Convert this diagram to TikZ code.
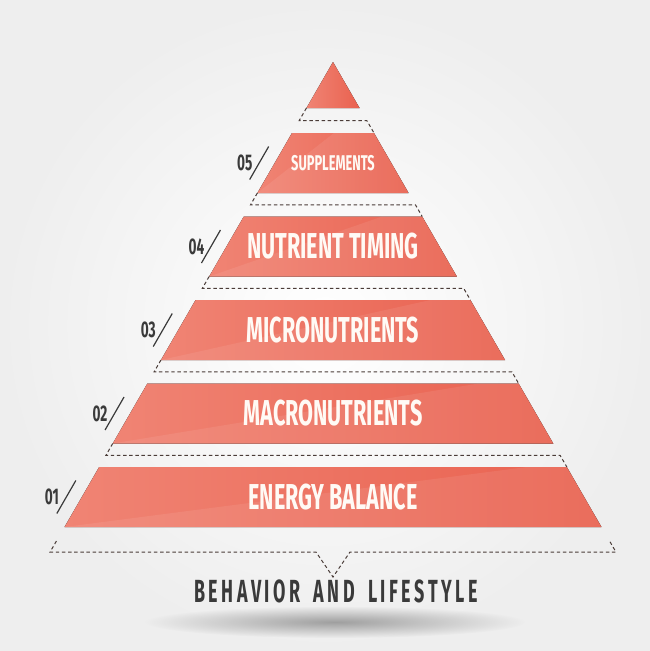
\documentclass[tikz,border=0pt]{standalone}
\usepackage{fontspec}
\newfontfamily\bandfont[FakeStretch=0.6]{Fira Sans}
\newfontfamily\basefont[FakeStretch=0.56,LetterSpace=11,WordSpace=1.7]{Fira Sans}
\usetikzlibrary{calc,fadings}
\definecolor{coral}{HTML}{F08474}
\definecolor{coraldark}{HTML}{E9614F}
\definecolor{inkgray}{HTML}{3A3A3A}
\definecolor{dashgray}{HTML}{4A3C38}
\definecolor{paper}{HTML}{EEEEEE}
\newcommand\edgeL[1]{333-0.5774*(#1-62)}
\newcommand\edgeR[1]{333+0.5774*(#1-62)}
\tikzfading[name=shadowfade,inner color=transparent!0,outer color=transparent!100]
\tikzset{
  band/.style     ={left color=coral,right color=coraldark},
  facet/.style    ={white,fill opacity=0.08},
  bandtext/.style ={text=white!96!orange,inner sep=0pt,font=\bandfont\bfseries\fontsize{#1}{#1}\selectfont},
  numtext/.style  ={text=inkgray,inner sep=0pt,font=\bandfont\bfseries\fontsize{17}{17}\selectfont},
  slashline/.style={inkgray,line width=0.9pt},
  gapline/.style  ={dashgray,line width=0.75pt,dash pattern=on 2.6pt off 2pt},
  basetext/.style ={text=inkgray,inner sep=0pt,font=\basefont\bfseries\fontsize{24}{24}\selectfont},
}

\begin{document}
\begin{tikzpicture}[x=0.75pt,y=-0.75pt]
  \useasboundingbox (0,0) rectangle (650,651);
  \fill[inner color=white,outer color=paper] (0,0) rectangle (650,651);
  \fill[gray!75,path fading=shadowfade] (335,622) ellipse [x radius=190,y radius=16];
  % apex
  \fill[band] (333,62) -- ({\edgeR{108}},108) -- ({\edgeL{108}},108) -- cycle;
  % bands, numbers and slashes
  \foreach \ytop/\i/\sz/\txt in {133/5/16/SUPPLEMENTS,216.5/4/27/NUTRIENT TIMING,300/3/27/MICRONUTRIENTS,383.5/2/27/MACRONUTRIENTS,467/1/27/ENERGY BALANCE}{
    \pgfmathsetmacro\ybot{\ytop+60}
    \pgfmathsetmacro\ymid{\ytop+30}
    \fill[band] ({\edgeL{\ytop}},\ytop) -- ({\edgeR{\ytop}},\ytop) -- ({\edgeR{\ybot}},\ybot) -- ({\edgeL{\ybot}},\ybot) -- cycle;
    \fill[facet] ({\edgeL{\ybot}},\ybot) -- ({\edgeR{\ytop}-40},\ytop) -- ({\edgeR{\ytop}},\ytop) -- ({\edgeR{\ybot}},\ybot) -- cycle;
    \node[bandtext=\sz](band\i) at (333,\ymid){\txt};
    \node[numtext](num\i) at ({\edgeL{\ymid}-30},\ymid){0\i};
    \draw[slashline] ({\edgeL{\ymid}-6},{\ymid-16.5}) -- ({\edgeL{\ymid}-25},{\ymid+16.5});
  }
  % dashed gaps
  \foreach \ub/\lt in {108/133,193/216.5,276.5/300,360/383.5,443.5/467}{
    \pgfmathsetmacro\ygap{(\ub+\lt)/2}
    \draw[gapline] ({\edgeL{\ub}},\ub) -- ({\edgeL{\ygap}},\ygap) -- ({\edgeR{\ygap}},\ygap) -- ({\edgeR{\lt}},\lt);
  }
  % base bracket
  \draw[gapline] ({\edgeL{541}},541) -- ({\edgeL{552}},552) -- (316,552) -- (333,577) -- (350,552) -- ({\edgeR{552}},552) -- ({\edgeR{541}},541);
  \node[basetext](base) at (336,591){BEHAVIOR AND LIFESTYLE};
\end{tikzpicture}
\end{document}
